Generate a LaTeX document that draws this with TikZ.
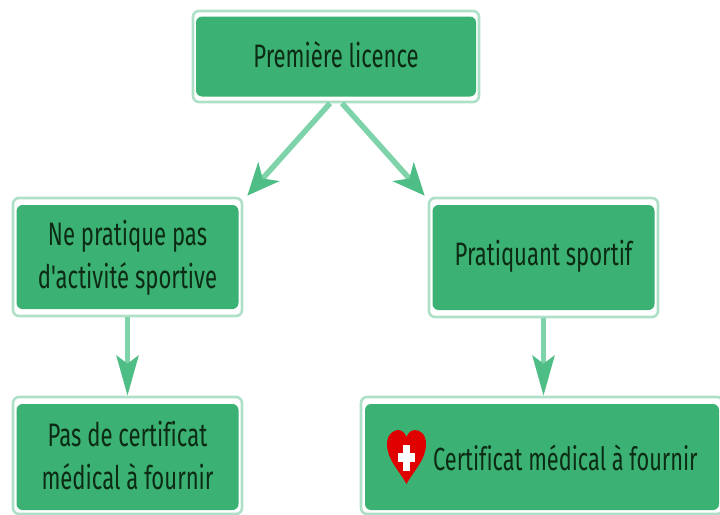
\documentclass[tikz,border=0pt]{standalone}
\usepackage{fontspec}
\setmainfont[FakeStretch=0.68,Ligatures={NoCommon,TeXOff}]{Fira Sans}
\usetikzlibrary{arrows.meta,calc}
\definecolor{boxgreen}{HTML}{3BB273}
\definecolor{ringgreen}{HTML}{ADE0C7}
\definecolor{shaftgreen}{HTML}{7FD3AA}
\definecolor{headgreen}{HTML}{4FBE86}
\definecolor{textgreen}{HTML}{0C2A14}
\tikzset{
  x=1pt,y=-1pt,
  ringbox/.style={draw=ringgreen,line width=2.6pt,fill=white,rounded corners=6pt,inner sep=0pt},
  innerbox/.style={fill=boxgreen,rounded corners=6pt,inner sep=0pt},
  label/.style={text=textgreen,align=center,inner sep=0pt,font=\fontsize{32.5}{43}\selectfont},
  conn/.style={draw=shaftgreen,line width=5.5pt},
  diagconn/.style={conn,-{Stealth[length=32pt,width=28pt,inset=9pt,color=headgreen]}},
  vertconn/.style={conn,-{Stealth[length=40pt,width=22pt,inset=8pt,color=headgreen]}}
}
\begin{document}
\begin{tikzpicture}
\useasboundingbox (0,0) rectangle (720,514);
\clip (0,0) rectangle (720,514);
% outer rings
\node[ringbox,minimum width=286pt,minimum height=91pt] (top) at (336,56.5) {};
\node[ringbox,minimum width=229pt,minimum height=118pt] (lft) at (127.5,257) {};
\node[ringbox,minimum width=229pt,minimum height=119pt] (rgt) at (543.5,257.5) {};
\node[ringbox,minimum width=229pt,minimum height=117pt] (bl) at (127.5,455.5) {};
\node[ringbox,minimum width=362pt,minimum height=117pt] (br) at (542,455.5) {};
% inner panels
\node[innerbox,minimum width=280pt,minimum height=80pt] (toppanel) at (top.center) {};
\node[innerbox,minimum width=222pt,minimum height=104pt] (lftpanel) at (lft.center) {};
\node[innerbox,minimum width=222pt,minimum height=105pt] (rgtpanel) at (rgt.center) {};
\node[innerbox,minimum width=222pt,minimum height=106pt] (blpanel) at (127.5,457) {};
\node[innerbox,minimum width=354pt,minimum height=106pt] (brpanel) at (542,457) {};
% texts
\node[label] (toptxt) at (336,54.5) {Première licence};
\node[label] (lfttxt) at (127.5,257.5) {Ne pratique pas\\d'activité sportive};
\node[label] (rgttxt) at (543.5,256) {Pratiquant sportif};
\node[label] (bltxt) at (127.5,455.5) {Pas de certificat\\médical à fournir};
\node[label,font=\fontsize{32}{43}\selectfont,anchor=west] (brtxt) at (433,458) {Certificat médical à fournir};
% heart
\fill[red!88!black] (406.5,484) .. controls (399,470) and (387,460) .. (387,444)
  .. controls (387,434) and (394,430) .. (398,430)
  .. controls (402,430) and (405,433) .. (406.5,437)
  .. controls (408,433) and (411,430) .. (415,430)
  .. controls (420,430) and (426,434) .. (426,444)
  .. controls (426,460) and (414,470) .. (406.5,484) -- cycle;
\fill[white] (402.5,445) rectangle (410,471);
\fill[white] (398,453) rectangle (415,462);
% connectors
\coordinate (lfttip) at ($(lft.north east)+(4,-1)$);
\coordinate (rgttip) at ($(rgt.north west)+(-3,-1)$);
\draw[diagconn] ($(top.south)+(-6,0)$) -- (lfttip);
\draw[diagconn] ($(top.south)+(6,0)$) -- (rgttip);
\draw[vertconn] (lft.south) -- (bl.north);
\draw[vertconn] (rgt.south) -- (rgt.south |- br.north);
\end{tikzpicture}
\end{document}
